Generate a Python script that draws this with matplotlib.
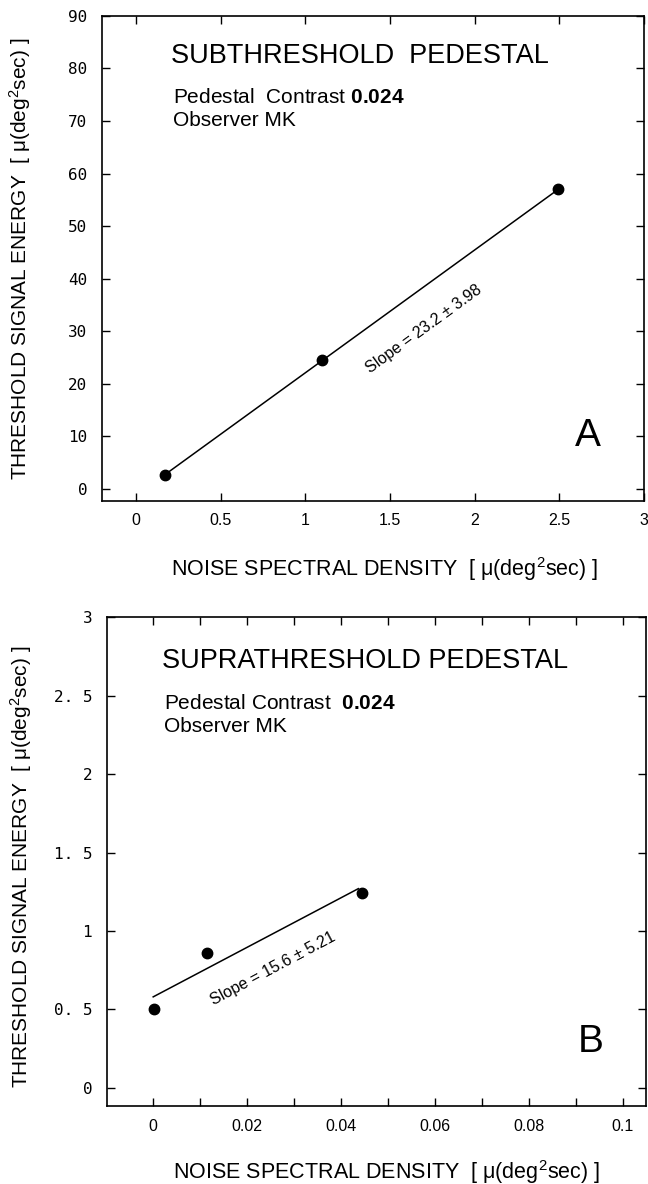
import matplotlib
matplotlib.use('Agg')
import matplotlib.pyplot as plt
from matplotlib.ticker import MultipleLocator

plt.rcParams['font.family'] = ['Liberation Sans', 'DejaVu Sans']
plt.rcParams['mathtext.fontset'] = 'custom'
plt.rcParams['mathtext.rm'] = 'Liberation Sans'
plt.rcParams['mathtext.it'] = 'Liberation Sans:italic'
plt.rcParams['mathtext.bf'] = 'Liberation Sans:bold'

# ---------------- Panel A : subthreshold pedestal ----------------
a_noise = [0.17, 1.10, 2.49]
a_energy = [2.7, 24.5, 57.0]
a_fit_x = [0.17, 2.49]
a_fit_y = [2.7, 56.9]
a_xticks = [0, 0.5, 1, 1.5, 2, 2.5, 3]
a_xticklabels = ['0', '0.5', '1', '1.5', '2', '2.5', '3']
a_yticks = [0, 10, 20, 30, 40, 50, 60, 70, 80, 90]
a_yticklabels = ['0', '10', '20', '30', '40', '50', '60', '70', '80', '90']
a_title = 'SUBTHRESHOLD  PEDESTAL'
a_slope = 'Slope = 23.2 ± 3.98'

# ---------------- Panel B : suprathreshold pedestal ----------------
b_noise = [0.0002, 0.0114, 0.0444]
b_energy = [0.50, 0.86, 1.245]
b_fit_x = [0.0, 0.0437]
b_fit_y = [0.58, 1.27]
b_xticks = [0, 0.02, 0.04, 0.06, 0.08, 0.1]
b_xticklabels = ['0', '0.02', '0.04', '0.06', '0.08', '0.1']
b_yticks = [0, 0.5, 1, 1.5, 2, 2.5, 3]
b_yticklabels = ['0', '0. 5', '1', '1. 5', '2', '2. 5', '3']
b_title = 'SUPRATHRESHOLD PEDESTAL'
b_slope = 'Slope = 15.6 ± 5.21'

xlabel = 'NOISE SPECTRAL DENSITY  [ μ(deg$^{2}$sec) ]'
ylabel = 'THRESHOLD SIGNAL ENERGY  [ μ(deg$^{2}$sec) ]'

fig = plt.figure(figsize=(6.48, 11.84), dpi=100)
axA = fig.add_axes([0.1574, 0.5772, 0.8364, 0.4095])
axB = fig.add_axes([0.1647, 0.0656, 0.8323, 0.4130])


def style(ax, xticks, xlabels, yticks, ylabels):
    ax.set_xticks(xticks)
    ax.set_xticklabels(xlabels)
    ax.set_yticks(yticks)
    ax.set_yticklabels(ylabels)
    for lab in ax.get_yticklabels():
        lab.set_fontfamily('DejaVu Sans Mono')
        lab.set_fontsize(11.5)
    for lab in ax.get_xticklabels():
        lab.set_fontsize(11.5)
    ax.tick_params(which='both', direction='in', length=6, width=1.0,
                   top=True, right=True, color='black')
    ax.tick_params(axis='x', pad=9)
    ax.tick_params(axis='y', pad=10.5)
    for sp in ax.spines.values():
        sp.set_linewidth(1.2)
    ax.set_xlabel(xlabel, fontsize=15.5, va='center')
    ax.set_ylabel(ylabel, fontsize=15, va='center')


# Panel A
axA.plot(a_fit_x, a_fit_y, color='black', lw=1.1)
axA.plot(a_noise, a_energy, 'o', color='black', ms=7.5)
axA.set_xlim(-0.2, 3.0)
axA.set_ylim(-2.2, 90)
style(axA, a_xticks, a_xticklabels, a_yticks, a_yticklabels)
axA.xaxis.set_label_coords(0.521, -0.141)
axA.yaxis.set_label_coords(-0.151, 0.498)
axA.text(0.205, 81.0, a_title, fontsize=19.5, ha='left', va='baseline')
axA.text(0.217, 73.4, 'Pedestal  Contrast $\\mathbf{0.024}$', fontsize=15,
         ha='left', va='baseline')
axA.text(0.217, 69.0, 'Observer MK', fontsize=15, ha='left', va='baseline')
axA.text(1.70, 30.5, a_slope, fontsize=11.5, rotation=36, rotation_mode='anchor',
         ha='center', va='center')
axA.text(2.668, 10.1, 'A', fontsize=28, ha='center', va='center')

# Panel B
axB.plot(b_fit_x, b_fit_y, color='black', lw=1.1)
axB.plot(b_noise, b_energy, 'o', color='black', ms=7.5)
axB.set_xlim(-0.0099, 0.105)
axB.set_ylim(-0.118, 3.0)
axB.xaxis.set_minor_locator(MultipleLocator(0.01))
style(axB, b_xticks, b_xticklabels, b_yticks, b_yticklabels)
axB.xaxis.set_label_coords(0.519, -0.134)
axB.yaxis.set_label_coords(-0.158, 0.489)
axB.text(0.0018, 2.68, b_title, fontsize=19.5, ha='left', va='baseline')
axB.text(0.0022, 2.415, 'Pedestal Contrast  $\\mathbf{0.024}$', fontsize=15,
         ha='left', va='baseline')
axB.text(0.0022, 2.27, 'Observer MK', fontsize=15, ha='left', va='baseline')
axB.text(0.0254, 0.761, b_slope, fontsize=11.5, rotation=28, rotation_mode='anchor',
         ha='center', va='center')
axB.text(0.0932, 0.293, 'B', fontsize=28, ha='center', va='center')

fig.savefig('out.png', dpi=100)
